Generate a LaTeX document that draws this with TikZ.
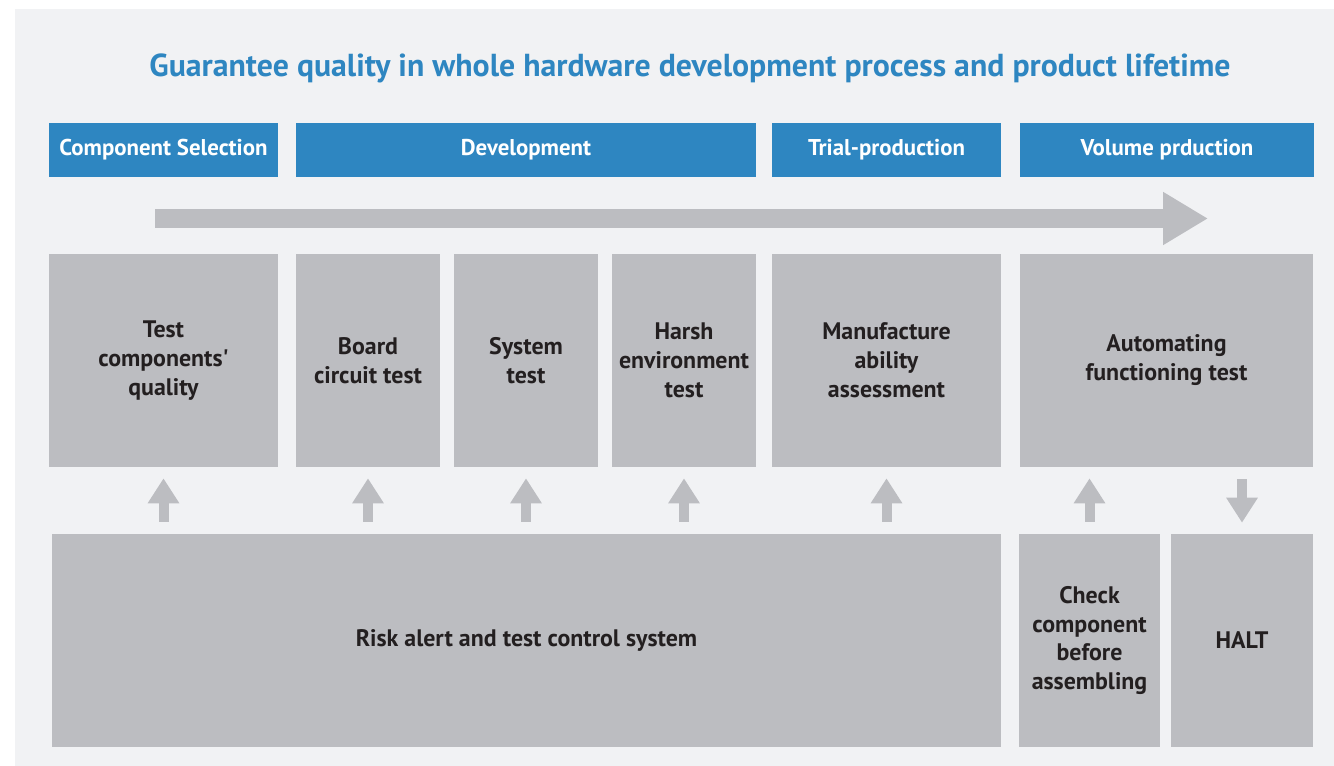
\documentclass[tikz,border=0pt]{standalone}
\usepackage{fontspec}
\setmainfont{PT Sans}
\usetikzlibrary{arrows.meta, calc}
\definecolor{hw_blue}{RGB}{46,134,193}
\definecolor{hw_gray}{RGB}{188,189,193}
\definecolor{hw_panel}{RGB}{241,242,244}
\definecolor{hw_text}{RGB}{35,31,32}
\tikzstyle{phase} = [rectangle, minimum height=1.08cm, text centered, fill=hw_blue, text=white, font=\fontsize{13}{15}\selectfont\bfseries]
\tikzstyle{block} = [rectangle, minimum height=4.26cm, align=center, fill=hw_gray, text=hw_text, inner sep=1pt, font=\fontsize{13.6}{16.5}\selectfont\bfseries]
\tikzstyle{arrow} = [draw=hw_gray, line width=0.2cm, -{Triangle[length=0.5cm, width=0.6cm]}, shorten <=0.24cm, shorten >=0.22cm]
\tikzstyle{flow} = [draw=hw_gray, line width=0.38cm, -{Triangle[length=0.9cm, width=1.0cm]}]

\begin{document}
\begin{tikzpicture}[x=0.02cm, y=-0.02cm]
        \fill[white] (0,0) rectangle (1334,766);
        \fill[hw_panel] (15,9) rectangle (1334,766);
        \node (title) at (690,68) [text=hw_blue, font=\fontsize{18.1}{22}\selectfont\bfseries] {Guarantee quality in whole hardware development process and product lifetime};
        % phases
        \node (compsel) at (163.5,150) [phase, minimum width=4.58cm] {Component Selection};
        \node (dev) at (526,150) [phase, minimum width=9.2cm] {Development};
        \node (trial) at (886.5,150) [phase, minimum width=4.58cm] {Trial-production};
        \node (volume) at (1167,150) [phase, minimum width=5.88cm] {Volume prduction};
        \coordinate (flowstart) at (155,218.5);
        \coordinate (flowend) at (1208,218.5);
        \draw [flow] (flowstart) -- (flowend);
        % tests
        \node (quality) at (163.5,360.5) [block, minimum width=4.58cm] {Test\\components\textquotesingle\\quality};
        \node (board) at (368,360.5) [block, minimum width=2.88cm] {Board\\circuit test};
        \node (system) at (526,360.5) [block, minimum width=2.88cm] {System\\test};
        \node (harsh) at (684,360.5) [block, minimum width=2.88cm] {Harsh\\environment\\test};
        \node (manuf) at (886.5,360.5) [block, minimum width=4.58cm] {Manufacture\\ability\\assessment};
        \node (auto) at (1166.5,360.5) [block, minimum width=5.86cm] {Automating\\functioning test};
        % support
        \node (risk) at (526.5,640.5) [block, minimum width=18.98cm] {Risk alert and test control system};
        \node (check) at (1089.5,640.5) [block, minimum width=2.82cm] {Check\\component\\before\\assembling};
        \node (halt) at (1242,640.5) [block, minimum width=2.84cm] {HALT};
        \foreach \t in {quality, board, system, harsh, manuf}
            \draw [arrow] (risk.north -| \t.south) -- (\t.south);
        \draw [arrow] (check.north) -- (check.north |- auto.south);
        \draw [arrow] (halt.north |- auto.south) -- (halt.north);
    \end{tikzpicture}
\end{document}
